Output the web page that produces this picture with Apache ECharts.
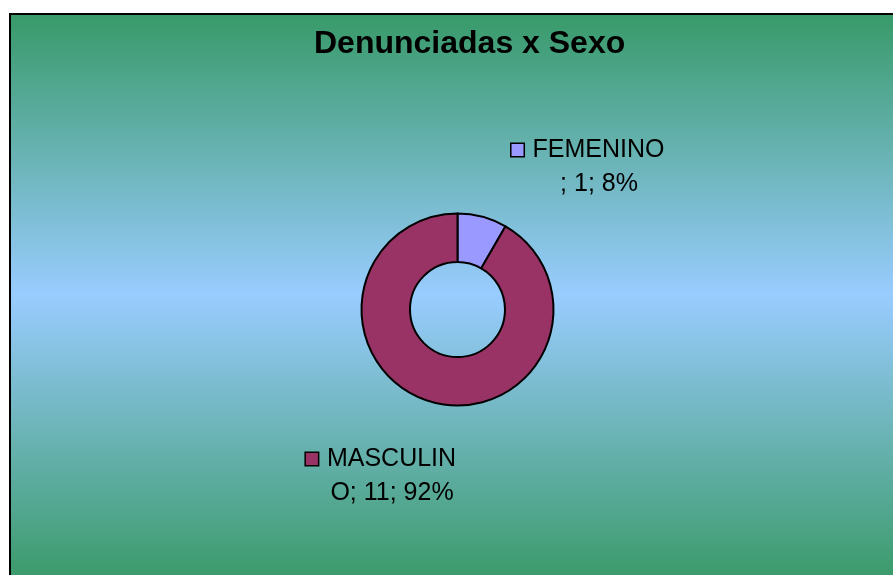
<!DOCTYPE html>
<html>
<head>
<meta charset="utf-8">
<script src="https://cdn.jsdelivr.net/npm/echarts@6/dist/echarts.min.js"></script>
<style>
html, body { margin: 0; padding: 0; background: #fff; width: 893px; height: 575px; overflow: hidden; }
#frame { position: absolute; left: 9px; top: 13px; border-left: 2px solid #000; border-top: 2px solid #000; }
#chart { width: 882px; height: 560px; }
</style>
</head>
<body>
<div id="frame"><div id="chart"></div></div>
<script>
var titleText = 'Denunciadas x Sexo';
var categories = ['FEMENINO', 'MASCULINO'];
var counts = [1, 11];
var colors = ['#9999FF', '#993366'];
// where each data label sits (center of the label block)
var labelPos = [[588, 152], [381, 461]];

var FONT = 'Arial, "Liberation Sans", sans-serif';

// wrap a label the way the original does: break at a fixed width
var ctx = document.createElement('canvas').getContext('2d');
ctx.font = '25px ' + FONT;
function wrap(str, maxW) {
  var lines = [], cur = '';
  for (var i = 0; i < str.length; i++) {
    var next = cur + str[i];
    if (cur && ctx.measureText(next).width > maxW) {
      lines.push(cur);
      cur = str[i];
    } else {
      cur = next;
    }
  }
  lines.push(cur);
  return lines;
}

var pieData = categories.map(function (name, i) {
  return { name: name, value: counts[i], itemStyle: { color: colors[i] } };
});

var rich = {
  t: { fontSize: 25, lineHeight: 34, color: '#000', fontFamily: FONT },
  gap: { width: 9 },
  pad: { width: 22 }
};
colors.forEach(function (c, i) {
  rich['sq' + i] = { width: 12, height: 12, backgroundColor: c, borderColor: '#000', borderWidth: 1.5, verticalAlign: 'middle' };
});

var chart = echarts.init(document.getElementById('chart'));
chart.setOption({
  animation: false,
  backgroundColor: {
    type: 'linear', x: 0, y: 0, x2: 0, y2: 1,
    colorStops: [
      { offset: 0, color: '#389A69' },
      { offset: 0.5, color: '#99CCFF' },
      { offset: 1, color: '#3C9B6C' }
    ]
  },
  title: {
    text: titleText,
    left: 298,
    top: 8,
    textStyle: { fontSize: 32, fontWeight: 'bold', color: '#000', fontFamily: FONT }
  },
  series: [{
    type: 'pie',
    silent: true,
    center: [446.5, 294.5],
    radius: [47.5, 96],
    startAngle: 90,
    clockwise: true,
    avoidLabelOverlap: false,
    itemStyle: { borderColor: '#000', borderWidth: 2 },
    labelLine: { show: false },
    label: {
      show: true,
      position: 'outside',
      align: 'center',
      rich: rich,
      formatter: function (p) {
        var lines = wrap(p.name + '; ' + p.value + '; ' + Math.round(p.percent) + '%', 135);
        var out = '{sq' + p.dataIndex + '|}{gap|}{t|' + lines[0] + '}{pad|}';
        for (var k = 1; k < lines.length; k++) out += '\n{t|' + lines[k] + '}';
        return out;
      }
    },
    labelLayout: function (params) {
      var p = labelPos[params.dataIndex];
      return { x: p[0], y: p[1], align: 'center', verticalAlign: 'middle' };
    },
    data: pieData
  }]
});
</script>
</body>
</html>
